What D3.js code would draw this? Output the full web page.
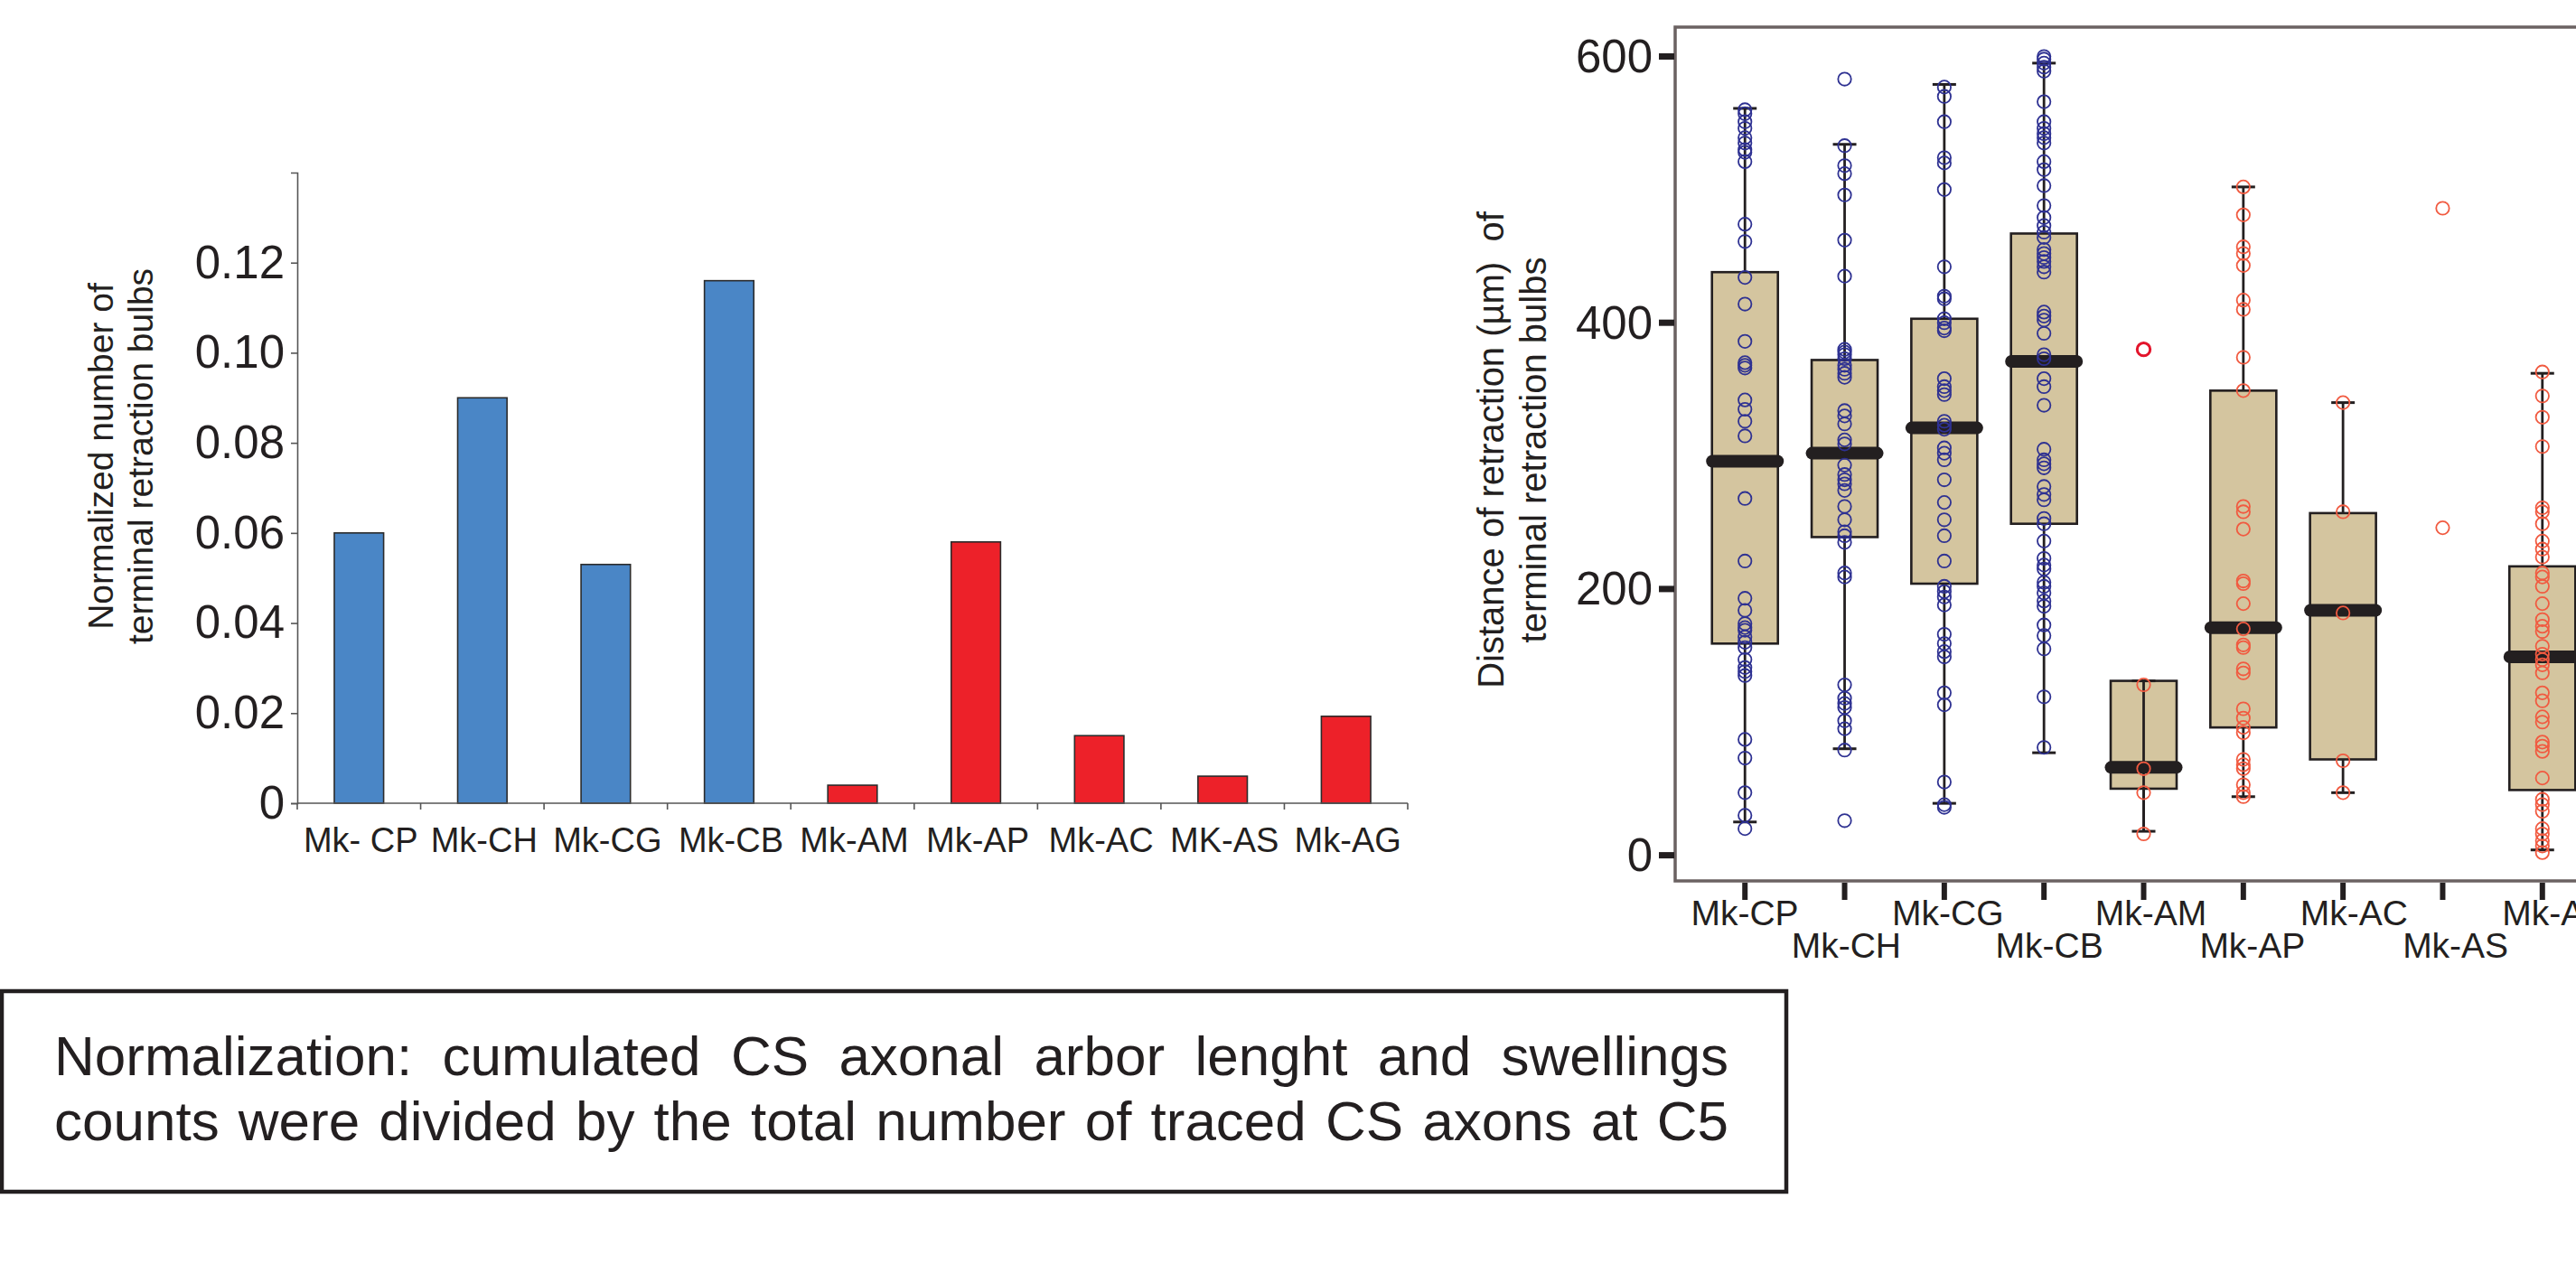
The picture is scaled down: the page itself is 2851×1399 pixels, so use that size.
<!DOCTYPE html>
<html><head><meta charset="utf-8">
<script src="https://cdn.jsdelivr.net/npm/d3@7"></script>
<style>
html,body{margin:0;padding:0;background:#fff;}
svg{display:block;font-family:"Liberation Sans",Arial,Helvetica,sans-serif;}
</style></head><body>
<svg id="chart" width="2851" height="1399"></svg>
<script>
// ---------- data: bar chart ----------
const barCats = ["Mk- CP","Mk-CH","Mk-CG","Mk-CB","Mk-AM","Mk-AP","Mk-AC","MK-AS","Mk-AG"];
const barValues = [0.060,0.090,0.053,0.116,0.004,0.058,0.015,0.006,0.0193];
const barGroups = ["C","C","C","C","A","A","A","A","A"];
const barTicks = [0,0.02,0.04,0.06,0.08,0.10,0.12];
const barTickLabels = ["0","0.02","0.04","0.06","0.08","0.10","0.12"];
const barTitle = ["Normalized number of","terminal retraction bulbs"];

// ---------- data: box plot ----------
const boxCats = ["Mk-CP","Mk-CH","Mk-CG","Mk-CB","Mk-AM","Mk-AP","Mk-AC","Mk-AS","Mk-AG"];
const boxGroups = ["C","C","C","C","A","A","A","A","A"];
const whiskerLow  = [25, 80, 39, 77, 18, 44, 47, null, 4];
const q1          = [159, 239, 204, 249, 50, 96, 72, null, 49];
const medians     = [296, 302, 321, 371, 66, 171, 184, null, 149];
const q3          = [438, 372, 403, 467, 131, 349, 257, null, 217];
const whiskerHigh = [561, 534, 579, 595, 131, 502, 340, null, 362];
const ptsCP = [560,557,551,546,539,535,530,528,521,474,461,434,414,386,370,368,366,342,335,326,315,268,221,193,184,174,171,169,164,160,156,147,141,138,135,87,73,47,30,20];
const ptsCH = [583,533,518,512,496,462,435,380,378,376,373,368,365,362,359,334,330,324,312,309,293,286,282,279,274,262,252,243,240,235,212,209,128,118,114,111,101,95,79,26];
const ptsCG = [577,570,551,524,520,500,442,420,418,403,400,396,394,358,352,349,346,326,323,320,306,302,297,282,265,252,240,221,202,198,194,188,166,159,153,149,122,113,55,38,36];
const ptsCB = [600,598,595,592,589,566,551,546,542,539,535,521,515,503,488,479,473,468,464,455,452,449,446,442,438,408,405,402,392,376,373,358,352,338,305,297,294,291,277,271,267,253,249,236,223,218,215,205,202,197,191,187,173,165,155,119,81];
const ptsAM = [128,65,47,16];
const ptsAP = [502,481,457,452,443,417,410,374,349,262,258,245,206,204,189,170,158,156,140,137,110,103,96,92,72,68,65,53,47,44];
const ptsAC = [340,258,182,71,47];
const ptsAS = [486,246];
const ptsAG = [363,345,329,307,261,258,249,236,230,224,212,209,202,189,177,172,168,157,151,147,143,137,122,116,104,100,85,82,78,58,42,38,33,20,16,11,7,2];
const boxPoints = [ptsCP,ptsCH,ptsCG,ptsCB,ptsAM,ptsAP,ptsAC,ptsAS,ptsAG];
const amOutliers = [380];
const boxTicks = [0,200,400,600];
const boxTitle = ["Distance of retraction (\u00b5m)  of","terminal retraction bulbs"];

// ---------- data: caption ----------
const captionLines = ["Normalization: cumulated CS axonal arbor lenght and swellings",
                      "counts were divided by the total number of traced CS axons at C5"];

const ink = "#231f20";
const svg = d3.select("#chart");

// ================= BAR CHART =================
const bx = d3.scaleBand().domain(barCats).range([329,1558]).paddingInner(0.6).paddingOuter(0.3);
const by = d3.scaleLinear().domain([0,0.14]).range([889,191]);
const gBar = svg.append("g");

gBar.selectAll("rect.bar").data(barCats).join("rect")
  .attr("x", d => bx(d))
  .attr("y", (d,i) => by(barValues[i]))
  .attr("width", bx.bandwidth())
  .attr("height", (d,i) => by(0) - by(barValues[i]))
  .attr("fill", (d,i) => barGroups[i] === "C" ? "#4a86c6" : "#ed2129")
  .attr("stroke", "#2b2b2b").attr("stroke-width", 1.6);

const yAx = gBar.append("g").attr("transform","translate(329,0)")
  .call(d3.axisLeft(by).tickValues(barTicks).tickFormat((d,i)=>barTickLabels[i])
        .tickSize(7).tickSizeOuter(7).tickPadding(7));
yAx.select(".domain").attr("stroke","#555").attr("stroke-width",1.6);
yAx.selectAll(".tick line").attr("stroke","#555").attr("stroke-width",1.6);
yAx.selectAll(".tick text").attr("font-size",51).attr("fill",ink)
  .attr("font-family","'Liberation Sans',Arial,sans-serif");

// x axis
const x0 = bx.range()[0], x1 = bx.range()[1];
gBar.append("line").attr("x1",x0).attr("x2",x1).attr("y1",by(0)).attr("y2",by(0))
  .attr("stroke","#555").attr("stroke-width",1.6);
gBar.selectAll("line.xt").data(d3.range(barCats.length+1)).join("line")
  .attr("x1", i => x0 + i*bx.step()).attr("x2", i => x0 + i*bx.step())
  .attr("y1", by(0)).attr("y2", by(0)+7)
  .attr("stroke","#555").attr("stroke-width",1.6);
gBar.selectAll("text.xl").data(barCats).join("text")
  .attr("x", d => bx(d) + bx.bandwidth()/2 + 2).attr("y", 943)
  .attr("text-anchor","middle").attr("font-size",38).attr("fill",ink)
  .text(d => d);

// y title
gBar.selectAll("text.yt").data(barTitle).join("text")
  .attr("transform",(d,i)=>`translate(${111 + i*44},505) rotate(-90)`)
  .attr("text-anchor","middle").attr("dominant-baseline","central")
  .attr("font-size",39).attr("fill",ink).text(d=>d);

// ================= BOX PLOT =================
const px = d3.scalePoint().domain(boxCats).range([1854, 2891]).padding(0.7);
const lx = d3.scalePoint().domain(boxCats).range([1931, 2830]);
const py = d3.scaleLinear().domain([0,600]).range([946.6, 62.5]);
const gBox = svg.append("g");

// frame
gBox.append("rect").attr("x",1854).attr("y",30).attr("width",2891-1854).attr("height",975-30)
  .attr("fill","none").attr("stroke","#6b6262").attr("stroke-width",3.5);

// y ticks
gBox.selectAll("line.yt").data(boxTicks).join("line")
  .attr("x1",1836).attr("x2",1853).attr("y1",d=>py(d)).attr("y2",d=>py(d))
  .attr("stroke",ink).attr("stroke-width",7);
gBox.selectAll("text.ytl").data(boxTicks).join("text")
  .attr("x",1829).attr("y",d=>py(d)).attr("text-anchor","end").attr("dominant-baseline","central")
  .attr("font-size",51).attr("fill",ink).text(d=>d);

// x ticks & labels
gBox.selectAll("line.xt").data(boxCats).join("line")
  .attr("x1",d=>px(d)).attr("x2",d=>px(d)).attr("y1",977).attr("y2",996)
  .attr("stroke",ink).attr("stroke-width",6);
gBox.selectAll("text.xl").data(boxCats).join("text")
  .attr("x",d=>lx(d)).attr("y",(d,i)=> i%2===0 ? 1024 : 1060)
  .attr("text-anchor","middle").attr("font-size",39).attr("fill",ink).text(d=>d);

// y title
gBox.selectAll("text.ytt").data(boxTitle).join("text")
  .attr("transform",(d,i)=>`translate(${1650 + i*47},498) rotate(-90)`)
  .attr("text-anchor","middle").attr("dominant-baseline","central")
  .attr("font-size",40).attr("fill",ink).style("white-space","pre").text(d=>d);

const idx = d3.range(boxCats.length).filter(i => q1[i] !== null);
const bw = 73;
// whiskers
gBox.selectAll("line.wh").data(idx).join("line")
  .attr("x1",i=>px(boxCats[i])).attr("x2",i=>px(boxCats[i]))
  .attr("y1",i=>py(whiskerLow[i])).attr("y2",i=>py(whiskerHigh[i]))
  .attr("stroke",ink).attr("stroke-width",2.8);
// boxes
gBox.selectAll("rect.box").data(idx).join("rect")
  .attr("x",i=>px(boxCats[i]) - bw/2).attr("width",bw)
  .attr("y",i=>py(q3[i])).attr("height",i=>py(q1[i]) - py(q3[i]))
  .attr("fill","#d4c59f").attr("stroke",ink).attr("stroke-width",2.6);
// whisker visible through the box where the box top reaches the upper whisker (Mk-AM)
gBox.selectAll("line.wh2").data(idx.filter(i => whiskerHigh[i] === q3[i])).join("line")
  .attr("x1",i=>px(boxCats[i])).attr("x2",i=>px(boxCats[i]))
  .attr("y1",i=>py(whiskerLow[i])).attr("y2",i=>py(whiskerHigh[i]))
  .attr("stroke",ink).attr("stroke-width",2.8);
// caps
[whiskerLow, whiskerHigh].forEach(arr => {
  gBox.append("g").selectAll("line").data(idx).join("line")
    .attr("x1",i=>px(boxCats[i]) - 13).attr("x2",i=>px(boxCats[i]) + 13)
    .attr("y1",i=>py(arr[i])).attr("y2",i=>py(arr[i]))
    .attr("stroke",ink).attr("stroke-width",3);
});
// medians
gBox.selectAll("line.med").data(idx).join("line")
  .attr("x1",i=>px(boxCats[i]) - 36).attr("x2",i=>px(boxCats[i]) + 36)
  .attr("y1",i=>py(medians[i])).attr("y2",i=>py(medians[i]))
  .attr("stroke",ink).attr("stroke-width",14).attr("stroke-linecap","round");
// points
boxPoints.forEach((pts,i) => {
  gBox.append("g").selectAll("circle").data(pts).join("circle")
    .attr("cx", px(boxCats[i])).attr("cy", d => py(d)).attr("r", 7.2)
    .attr("fill","none")
    .attr("stroke", boxGroups[i]==="C" ? "#2e3192" : "#f15a40")
    .attr("stroke-width",1.8);
});
gBox.append("g").selectAll("circle").data(amOutliers).join("circle")
  .attr("cx", px("Mk-AM")).attr("cy", d => py(d)).attr("r", 7.2)
  .attr("fill","none").attr("stroke","#e3142b").attr("stroke-width",3);

// ================= CAPTION =================
const gCap = svg.append("g");
gCap.append("rect").attr("x",2).attr("y",1097).attr("width",1975).attr("height",222)
  .attr("fill","none").attr("stroke",ink).attr("stroke-width",4.5);
captionLines.forEach((line, li) => {
  const words = line.split(" ");
  const y = 1190 + li*72;
  const t = gCap.append("g").selectAll("text").data(words).join("text")
    .attr("y", y).attr("font-size",62).attr("fill",ink).text(d=>d);
  const widths = t.nodes().map(n => n.getComputedTextLength());
  const gap = (1913 - 60 - d3.sum(widths)) / (words.length - 1);
  const xs = []; let cx = 60;
  widths.forEach(w => { xs.push(cx); cx += w + gap; });
  t.attr("x", (d,i) => xs[i]);
});
</script></body></html>
